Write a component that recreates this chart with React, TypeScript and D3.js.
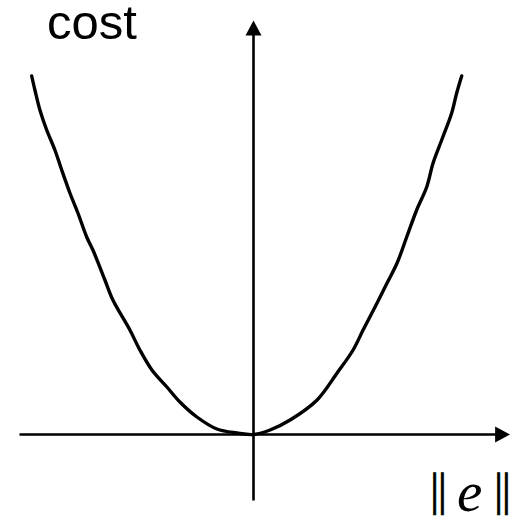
import React from 'react';
import * as d3 from 'd3';

// error norm ||e|| (horizontal) and cost (vertical)
const errorValues = [
  -1.109, -1.093, -1.068, -1.034, -0.993, -0.959, -0.918, -0.878, -0.834, -0.803,
  -0.743, -0.703, -0.618, -0.568, -0.508, -0.433, -0.368, -0.283, -0.183, -0.083,
  0.0, 0.083, 0.183, 0.318, 0.418, 0.498, 0.548, 0.618, 0.668, 0.718,
  0.766, 0.816, 0.866, 0.898, 0.941, 0.991, 1.016, 1.041,
];
const costValues = [
  3.585, 3.445, 3.245, 3.045, 2.845, 2.645, 2.415, 2.215, 1.975, 1.845,
  1.545, 1.345, 1.045, 0.845, 0.645, 0.475, 0.325, 0.175, 0.055, 0.015,
  0.0, 0.045, 0.145, 0.345, 0.615, 0.845, 1.045, 1.315, 1.515, 1.715,
  1.975, 2.245, 2.475, 2.715, 2.945, 3.215, 3.415, 3.585,
];
const xAxisExtent = [-1.17, 1.283];
const yAxisExtent = [-0.66, 4.14];
const yLabel = 'cost';
const xLabelBars = '||';
const xLabelVar = 'e';

export default function App() {
  const W = 515;
  const H = 517;
  const x = d3.scaleLinear().domain([-1, 1]).range([53.5, 453.5]);
  const y = d3.scaleLinear().domain([0, 1]).range([434.5, 334.5]);

  const pts: [number, number][] = errorValues.map((e, i) => [e, costValues[i]]);
  const line = d3
    .line<[number, number]>()
    .x((d) => x(d[0]))
    .y((d) => y(d[1]))
    .curve(d3.curveCatmullRom.alpha(0.5));

  const x0 = x(0);
  const y0 = y(0);
  const xl = x(xAxisExtent[0]);
  const xr = x(xAxisExtent[1]);
  const yb = y(yAxisExtent[0]);
  const yt = y(yAxisExtent[1]);
  const ah = 15; // arrow length
  const aw = 8; // arrow half width

  const serif = "'Liberation Serif', 'Times New Roman', serif";

  return (
    <svg
      width={W}
      height={H}
      style={{ position: 'absolute', left: 0, top: 0, background: '#fff' }}
    >
      <rect width={W} height={H} fill="#fff" />
      {/* x axis */}
      <line x1={xl} y1={y0} x2={xr - ah + 1} y2={y0} stroke="#000" strokeWidth={2.6} />
      <polygon
        points={`${xr},${y0} ${xr - ah},${y0 - aw} ${xr - ah},${y0 + aw}`}
        fill="#000"
      />
      {/* y axis */}
      <line x1={x0} y1={yb} x2={x0} y2={yt + ah - 1} stroke="#000" strokeWidth={2.6} />
      <polygon
        points={`${x0},${yt} ${x0 - aw},${yt + ah} ${x0 + aw},${yt + ah}`}
        fill="#000"
      />
      {/* cost curve */}
      <path
        d={line(pts) || ''}
        fill="none"
        stroke="#000"
        strokeWidth={3.4}
        strokeLinejoin="round"
        strokeLinecap="round"
      />
      {/* labels */}
      <text
        x={47}
        y={39}
        fontFamily="'Liberation Sans', Arial, sans-serif"
        fontSize={49}
        fill="#000"
      >
        {yLabel}
      </text>
      <text
        x={430}
        y={505}
        fontFamily={serif}
        fontSize={46}
        letterSpacing={-1.5}
        fill="#000"
        stroke="#000"
        strokeWidth={0.7}
      >
        {xLabelBars}
      </text>
      <text
        x={457}
        y={511}
        fontFamily={serif}
        fontStyle="italic"
        fontSize={57}
        fill="#000"
      >
        {xLabelVar}
      </text>
      <text
        x={494}
        y={505}
        fontFamily={serif}
        fontSize={46}
        letterSpacing={-1.5}
        fill="#000"
        stroke="#000"
        strokeWidth={0.7}
      >
        {xLabelBars}
      </text>
    </svg>
  );
}
